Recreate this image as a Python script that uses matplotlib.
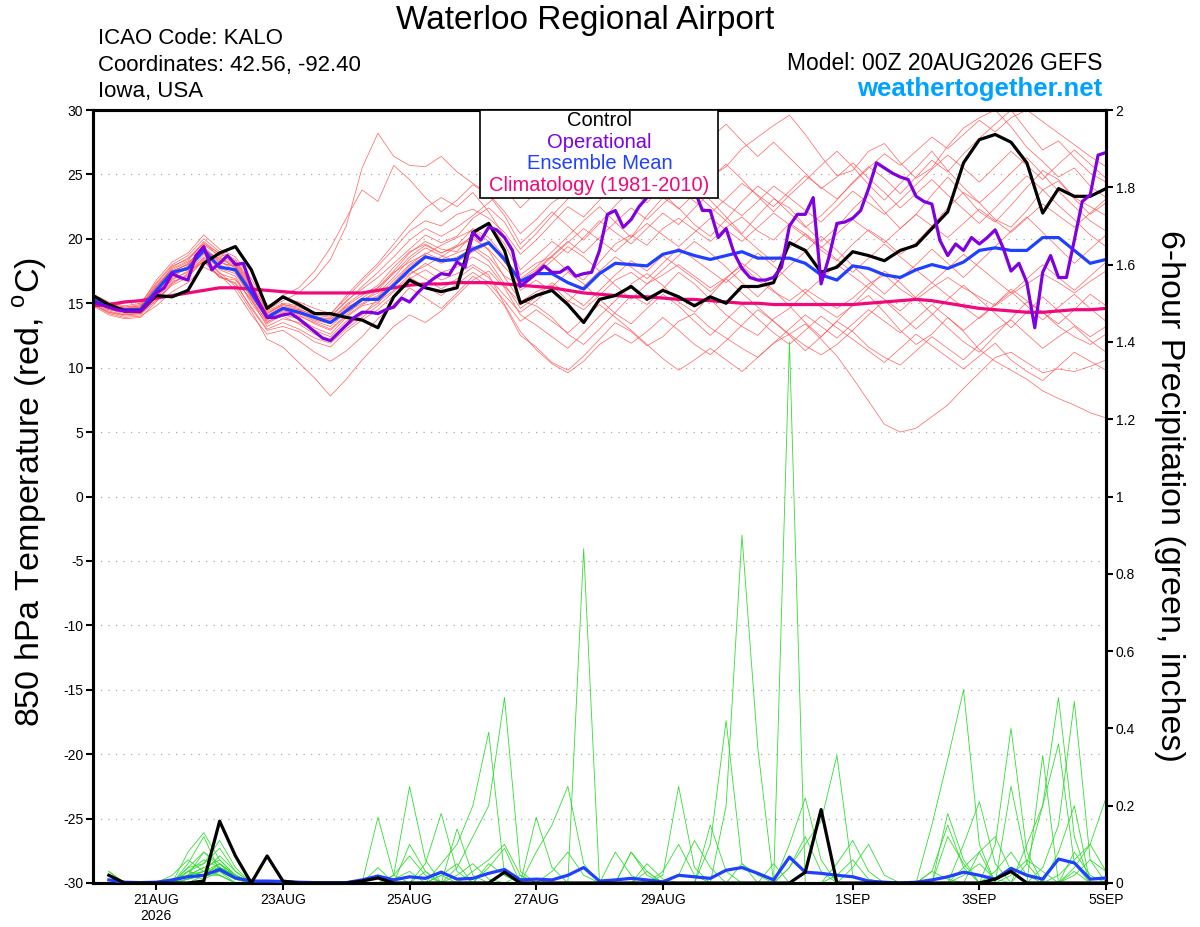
import numpy as np
import matplotlib
matplotlib.use('Agg')
import matplotlib.pyplot as plt
from matplotlib.patches import Rectangle

plt.rcParams['font.family'] = ['Liberation Sans', 'DejaVu Sans']
plt.rcParams['axes.unicode_minus'] = False

# forecast hours from 00Z 20AUG2026 (ensemble 6-hourly, operational 3-hourly)
hours_6 = np.arange(0, 385, 6)
hours_3 = np.arange(0, 385, 3)
hours_precip = hours_6[1:]

tick_hours = [24, 72, 120, 168, 216, 288, 336, 384]
tick_labels = ['21AUG\n2026', '23AUG', '25AUG', '27AUG', '29AUG', '1SEP', '3SEP', '5SEP']

# 850 hPa temperature (C)
control_t = [15.6, 14.9, 14.4, 14.4, 15.6, 15.5, 16.0, 18.1, 18.9, 19.4, 17.6, 14.6, 15.5,
             14.9, 14.2, 14.2, 13.9, 13.7, 13.1, 15.5, 16.8, 16.2, 15.9, 16.2, 20.5, 21.2,
             19.1, 15.0, 15.6, 16.0, 14.9, 13.5, 15.3, 15.6, 16.3, 15.3, 16.0, 15.5, 14.8,
             15.5, 15.0, 16.3, 16.3, 16.6, 19.7, 19.1, 17.4, 17.8, 19.0, 18.7, 18.3, 19.1,
             19.5, 20.8, 22.1, 25.9, 27.7, 28.1, 27.5, 25.9, 22.0, 23.9, 23.3, 23.3, 23.9]

mean_t = [15.3, 14.7, 14.5, 14.5, 16.0, 17.4, 17.7, 19.1, 17.8, 17.6, 15.8, 13.9, 14.6,
          14.3, 13.9, 13.5, 14.4, 15.3, 15.3, 16.4, 17.6, 18.6, 18.3, 18.4, 19.2, 19.7,
          18.4, 16.7, 17.3, 17.3, 16.6, 16.1, 17.3, 18.1, 18.0, 17.9, 18.8, 19.1, 18.7,
          18.4, 18.7, 19.0, 18.5, 18.5, 18.5, 18.1, 17.2, 16.8, 17.9, 17.7, 17.2, 17.0,
          17.6, 18.0, 17.7, 18.2, 19.1, 19.3, 19.1, 19.1, 20.1, 20.1, 19.1, 18.1, 18.4]

clim_t = [14.8, 14.9, 15.1, 15.2, 15.4, 15.6, 15.8, 16.0, 16.2, 16.2, 16.1, 16.0, 15.9,
          15.8, 15.8, 15.8, 15.8, 15.8, 16.0, 16.2, 16.4, 16.5, 16.5, 16.6, 16.6, 16.6,
          16.5, 16.4, 16.3, 16.2, 16.0, 15.8, 15.7, 15.6, 15.5, 15.5, 15.4, 15.3, 15.3,
          15.2, 15.1, 15.0, 15.0, 14.9, 14.9, 14.9, 14.9, 14.9, 14.9, 15.0, 15.1, 15.2,
          15.3, 15.2, 15.0, 14.8, 14.6, 14.5, 14.4, 14.3, 14.3, 14.4, 14.5, 14.5, 14.6]

oper_t = [15.1, 14.9, 14.7, 14.5, 14.4, 14.4, 14.4, 15.0, 15.8, 16.2,
          17.3, 17.0, 16.8, 18.7, 19.4, 17.6, 18.1, 18.7, 18.0, 18.1,
          16.3, 15.0, 13.9, 13.9, 14.1, 14.2, 13.8, 13.3, 12.8, 12.3,
          12.1, 12.7, 13.3, 13.9, 14.3, 14.3, 14.2, 14.5, 14.7, 15.4,
          15.1, 15.8, 16.4, 16.9, 17.3, 17.2, 18.2, 17.8, 20.5, 19.9,
          20.9, 20.7, 20.1, 19.1, 16.3, 16.8, 17.3, 17.9, 17.4, 17.4,
          17.8, 17.1, 17.3, 17.4, 19.1, 21.9, 22.2, 20.9, 21.5, 22.5,
          23.2, 24.0, 24.5, 24.8, 25.0, 24.5, 23.8, 22.2, 22.2, 20.1,
          20.8, 18.9, 17.7, 17.0, 16.8, 16.8, 17.0, 17.8, 21.0, 21.9,
          21.9, 23.2, 16.5, 18.6, 21.2, 21.3, 21.6, 22.2, 23.9, 25.9,
          25.5, 25.1, 24.8, 24.6, 23.3, 22.9, 22.7, 19.9, 18.7, 19.6,
          19.1, 20.1, 19.6, 20.1, 20.7, 19.3, 17.5, 18.1, 16.6, 13.1,
          17.4, 18.7, 17.0, 17.0, 19.9, 22.9, 23.4, 26.5, 26.7]

# ensemble members, 850 hPa temperature
member_t = [
    [15.2, 14.6, 14.3, 14.6, 16.2, 17.8, 18.5, 19.6, 18.9, 18.2, 16.4, 14.5, 15.2,
     15.8, 16.9, 18.4, 21.0, 25.5, 28.2, 26.4, 25.7, 25.6, 26.4, 25.2, 24.3, 23.5,
     22.1, 20.4, 21.5, 22.8, 23.6, 24.1, 25.2, 26.0, 27.3, 28.0, 29.1, 28.4, 26.2,
     24.8, 25.6, 27.0, 27.9, 28.8, 29.6, 28.1, 26.4, 24.9, 25.3, 26.8, 27.4, 25.9,
     24.7, 25.5, 27.2, 28.6, 29.4, 30.0, 28.7, 27.1, 26.0, 24.8, 25.5, 24.1, 23.2],
    [14.9, 14.2, 13.9, 14.0, 14.8, 15.9, 16.6, 17.8, 17.2, 16.0, 14.1, 12.6, 12.9,
     12.1, 11.2, 10.5, 11.3, 12.4, 13.8, 14.9, 16.2, 15.4, 14.6, 15.8, 17.1, 16.3,
     14.8, 12.5, 11.6, 10.4, 9.8, 10.9, 12.2, 13.5, 12.8, 11.7, 12.4, 13.6, 14.2,
     13.1, 12.3, 11.5, 10.8, 11.9, 12.6, 13.4, 12.2, 10.9, 9.2, 7.4, 5.6, 5.0,
     5.3, 6.2, 7.1, 8.4, 9.6, 10.8, 11.2, 10.4, 9.6, 9.9, 9.7, 10.1, 10.6],
    [15.4, 14.8, 14.4, 14.3, 15.6, 16.8, 17.5, 18.2, 17.0, 16.8, 15.3, 13.2, 13.8,
     13.5, 12.9, 12.4, 13.6, 14.2, 15.0, 16.4, 17.3, 17.9, 18.6, 19.4, 20.2, 19.1,
     17.0, 15.2, 14.8, 13.9, 12.6, 11.8, 13.0, 14.3, 15.6, 14.9, 16.1, 17.4, 16.5,
     15.3, 14.1, 13.2, 12.5, 13.8, 14.6, 15.8, 14.7, 13.9, 14.8, 15.6, 14.3, 12.9,
     11.8, 12.6, 13.9, 12.8, 11.4, 10.5, 9.8, 9.1, 8.2, 7.6, 7.1, 6.5, 6.1],
    [15.6, 15.0, 14.7, 14.9, 16.8, 18.2, 18.9, 20.3, 19.2, 18.6, 16.9, 14.8, 15.4,
     15.1, 14.6, 14.2, 15.4, 16.7, 17.9, 19.2, 20.6, 21.4, 21.0, 21.9, 22.3, 21.6,
     20.5, 18.8, 19.9, 21.2, 22.5, 21.7, 23.0, 24.4, 23.6, 22.8, 24.1, 25.5, 24.3,
     23.0, 21.7, 20.4, 21.8, 23.1, 22.4, 21.0, 19.8, 20.9, 22.3, 23.5, 22.1, 20.8,
     21.9, 23.4, 24.8, 23.5, 22.1, 21.3, 22.6, 24.0, 25.3, 24.6, 23.2, 22.5, 21.8],
    [14.8, 14.1, 13.8, 13.9, 15.1, 16.5, 17.3, 18.6, 17.4, 16.3, 14.4, 12.2, 11.6,
     10.4, 9.2, 7.8, 9.1, 10.6, 11.9, 13.2, 14.1, 13.5, 14.4, 15.6, 16.8, 17.5,
     16.2, 14.1, 13.3, 12.4, 11.5, 12.7, 14.0, 15.2, 16.5, 17.3, 16.4, 15.1, 14.3,
     15.6, 16.9, 18.1, 17.2, 16.0, 14.8, 13.5, 12.4, 13.6, 14.9, 16.2, 17.5, 16.6,
     15.4, 14.2, 13.1, 12.0, 11.2, 12.5, 13.8, 15.1, 14.3, 13.2, 12.4, 11.8, 12.6],
    [15.3, 14.7, 14.6, 14.8, 16.4, 17.6, 18.2, 19.0, 18.5, 18.0, 16.2, 14.3, 14.9,
     14.6, 14.0, 13.7, 14.9, 15.8, 16.2, 17.5, 18.9, 19.8, 19.2, 19.0, 20.4, 21.2,
     19.6, 17.2, 18.1, 18.6, 17.5, 16.8, 18.2, 19.6, 20.3, 19.5, 20.8, 21.6, 20.7,
     19.8, 20.9, 21.7, 20.6, 19.9, 21.2, 20.4, 19.1, 18.3, 19.6, 20.7, 19.9, 18.8,
     19.7, 21.0, 22.4, 23.6, 22.8, 21.5, 20.9, 22.2, 23.8, 24.5, 23.1, 21.9, 22.8],
    [15.1, 14.5, 14.2, 14.2, 15.5, 16.9, 17.4, 18.8, 17.6, 17.1, 15.0, 13.4, 14.1,
     13.8, 13.1, 12.6, 13.9, 14.8, 15.1, 16.0, 17.2, 18.1, 17.4, 17.8, 18.6, 17.9,
     16.3, 15.1, 15.9, 16.4, 15.2, 14.5, 15.6, 16.8, 17.4, 16.5, 17.2, 18.0, 17.1,
     16.2, 17.0, 17.9, 16.8, 15.9, 15.2, 16.1, 15.3, 14.6, 15.4, 16.5, 17.2, 16.1,
     15.3, 16.2, 17.0, 16.2, 15.5, 14.8, 15.7, 16.5, 17.3, 16.6, 15.8, 16.7, 17.5],
    [15.5, 14.9, 14.5, 14.4, 15.9, 17.2, 17.9, 19.3, 18.1, 17.9, 16.0, 14.0, 14.5,
     14.4, 13.9, 13.8, 14.7, 15.2, 16.0, 17.4, 18.2, 18.8, 19.5, 20.1, 20.7, 19.8,
     18.2, 16.9, 17.8, 19.0, 20.2, 21.4, 22.5, 21.3, 20.1, 21.8, 23.2, 22.4, 21.1,
     20.2, 21.5, 22.9, 24.1, 23.2, 22.0, 20.9, 21.8, 23.0, 24.4, 25.6, 24.7, 23.5,
     24.8, 26.1, 25.2, 26.6, 27.8, 28.9, 30.0, 28.4, 26.9, 27.6, 26.3, 25.1, 24.4],
    [14.9, 14.3, 14.0, 14.1, 15.3, 16.4, 17.0, 18.4, 17.0, 16.6, 14.6, 12.9, 13.2,
     12.8, 12.0, 11.6, 12.8, 13.7, 14.5, 15.6, 16.9, 17.6, 16.8, 17.3, 18.0, 17.2,
     14.9, 12.8, 11.4, 10.3, 9.6, 10.5, 11.8, 12.6, 11.9, 12.8, 13.9, 12.9, 11.8,
     11.0, 12.1, 13.3, 14.5, 13.6, 12.5, 11.3, 12.4, 13.6, 12.8, 11.6, 10.8, 10.2,
     11.3, 12.4, 11.5, 10.6, 11.8, 12.9, 13.7, 12.6, 11.5, 12.4, 13.2, 12.1, 11.2],
    [15.7, 15.1, 14.8, 15.0, 16.6, 18.0, 18.7, 20.0, 19.0, 18.4, 16.6, 14.7, 15.6,
     16.2, 17.5, 19.3, 21.6, 23.8, 22.9, 25.7, 24.6, 23.2, 22.1, 23.0, 24.2, 23.4,
     21.8, 19.6, 20.8, 22.1, 21.0, 19.9, 21.2, 22.6, 23.8, 24.9, 23.6, 22.3, 23.5,
     24.7, 25.8, 24.6, 23.3, 22.1, 23.4, 24.5, 25.7, 26.8, 25.6, 24.2, 23.0, 24.3,
     25.5, 26.8, 25.3, 24.0, 22.8, 23.9, 25.1, 26.3, 25.0, 23.7, 22.5, 21.4, 20.6],
    [15.2, 14.6, 14.4, 14.5, 16.1, 17.3, 17.6, 19.2, 18.3, 17.5, 15.6, 13.7, 14.4,
     14.2, 13.6, 13.2, 14.3, 15.0, 15.6, 16.8, 18.0, 18.9, 18.4, 18.9, 19.4, 18.6,
     17.1, 16.4, 17.2, 18.3, 19.4, 18.6, 17.5, 16.4, 15.3, 16.5, 17.6, 18.7, 19.8,
     18.9, 17.8, 16.6, 15.5, 16.7, 17.9, 19.0, 20.2, 19.1, 17.9, 16.8, 15.7, 16.9,
     18.0, 19.2, 18.1, 17.0, 18.2, 19.4, 20.6, 21.7, 20.5, 19.3, 18.1, 19.2, 20.3],
    [15.0, 14.4, 14.1, 14.2, 15.2, 16.6, 17.2, 18.5, 17.3, 16.9, 15.2, 13.6, 14.0,
     13.4, 12.6, 12.1, 13.2, 14.1, 15.3, 16.5, 17.6, 16.9, 16.1, 16.9, 17.8, 17.0,
     15.6, 14.3, 15.2, 16.3, 17.4, 16.5, 15.3, 14.2, 13.4, 14.6, 15.7, 14.8, 13.6,
     12.5, 13.7, 14.9, 13.8, 12.7, 11.8, 12.9, 14.0, 13.1, 12.2, 11.3, 10.4, 11.5,
     12.6, 11.7, 10.8, 9.9, 10.9, 11.9, 10.6, 9.7, 9.0, 10.1, 11.2, 10.5, 9.8],
    [15.4, 14.8, 14.6, 14.7, 16.3, 17.5, 18.0, 19.5, 18.7, 18.1, 16.3, 14.2, 14.8,
     14.5, 14.1, 13.9, 15.2, 16.1, 17.0, 18.1, 19.2, 20.3, 19.7, 20.2, 21.6, 22.4,
     21.3, 19.2, 20.4, 21.8, 23.1, 24.3, 25.5, 24.6, 25.8, 27.0, 26.2, 27.4, 28.6,
     27.8, 28.9, 27.6, 26.4, 27.5, 26.3, 25.1, 23.9, 24.8, 25.9, 24.7, 23.6, 22.4,
     23.5, 24.6, 23.4, 22.3, 21.2, 22.4, 23.7, 24.9, 23.8, 22.6, 21.5, 20.3, 19.4],
    [15.1, 14.5, 14.3, 14.3, 15.7, 17.0, 17.8, 19.1, 17.7, 17.3, 15.4, 13.5, 14.3,
     14.0, 13.5, 13.0, 14.1, 15.2, 15.8, 17.0, 18.4, 19.3, 18.7, 18.2, 19.0, 19.6,
     18.3, 16.0, 16.8, 15.9, 15.1, 16.3, 17.5, 18.6, 17.8, 16.9, 18.1, 19.3, 18.4,
     17.5, 16.6, 17.7, 18.9, 17.9, 16.8, 15.8, 16.9, 18.0, 17.1, 16.2, 15.3, 14.4,
     15.5, 16.6, 15.6, 14.7, 13.8, 14.9, 16.1, 15.2, 14.3, 13.4, 14.5, 15.7, 14.8],
    [15.6, 14.9, 14.7, 14.8, 16.5, 17.9, 18.4, 19.8, 18.8, 18.3, 16.5, 14.4, 15.0,
     14.8, 14.3, 14.1, 15.6, 16.9, 18.1, 19.6, 21.1, 22.4, 23.2, 22.5, 23.6, 22.1,
     20.2, 17.6, 18.7, 19.8, 18.9, 20.1, 21.4, 20.5, 19.6, 20.8, 22.0, 21.1, 22.4,
     23.6, 22.7, 21.8, 22.9, 24.1, 23.2, 22.2, 21.3, 22.5, 23.7, 22.8, 21.9, 23.0,
     24.2, 25.4, 26.5, 25.5, 24.4, 25.6, 26.8, 25.7, 24.6, 25.8, 26.9, 25.8, 24.7],
    [15.3, 14.6, 14.3, 14.4, 15.8, 17.1, 17.8, 18.9, 18.0, 17.4, 15.5, 13.8, 14.5,
     14.1, 13.4, 12.9, 14.0, 14.9, 15.5, 16.6, 17.9, 18.7, 18.1, 18.6, 19.2, 18.3,
     16.5, 14.6, 15.5, 16.6, 15.7, 14.8, 16.0, 17.2, 18.3, 17.5, 18.7, 17.8, 16.9,
     15.9, 16.9, 15.8, 14.7, 13.6, 12.6, 11.7, 11.0, 11.8, 12.9, 14.1, 15.2, 14.1,
     13.0, 14.1, 15.3, 16.4, 15.3, 14.2, 13.1, 14.3, 15.5, 14.4, 13.3, 12.4, 13.2],
    [15.5, 14.9, 14.6, 14.6, 16.0, 17.4, 18.1, 19.4, 18.2, 17.8, 15.9, 14.1, 14.7,
     14.5, 13.8, 13.5, 14.8, 15.6, 16.4, 17.8, 19.0, 19.6, 18.9, 19.5, 20.8, 20.1,
     18.6, 16.8, 17.6, 18.7, 19.8, 18.9, 20.1, 21.3, 22.4, 21.5, 22.7, 23.8, 22.9,
     22.0, 23.1, 24.3, 23.4, 22.5, 23.7, 24.9, 24.0, 23.1, 24.3, 25.5, 26.6, 25.7,
     26.8, 27.9, 27.0, 28.1, 29.2, 28.3, 29.4, 30.0, 29.1, 28.2, 27.3, 26.4, 25.6],
    [14.9, 14.3, 14.1, 14.2, 15.4, 16.7, 17.1, 18.3, 17.1, 16.5, 14.7, 13.0, 13.5,
     13.0, 12.3, 11.9, 13.0, 13.9, 14.8, 15.9, 17.0, 16.3, 15.6, 16.5, 17.4, 16.6,
     15.2, 13.6, 14.5, 13.6, 12.7, 13.8, 14.9, 13.9, 12.9, 11.8, 10.7, 9.8, 10.6,
     11.5, 10.6, 9.7, 10.8, 11.9, 13.0, 14.1, 13.2, 12.3, 13.4, 14.5, 13.6, 12.7,
     13.8, 14.9, 13.9, 12.9, 13.9, 14.9, 15.9, 14.8, 13.7, 14.7, 15.7, 14.6, 13.6],
    [15.2, 14.7, 14.5, 14.7, 16.3, 17.7, 18.3, 19.7, 18.6, 17.7, 15.8, 14.0, 14.7,
     14.3, 13.7, 13.4, 14.6, 15.4, 16.2, 17.3, 18.6, 19.5, 18.9, 19.4, 20.0, 19.2,
     17.8, 16.5, 17.5, 18.6, 19.7, 20.8, 19.9, 19.0, 20.1, 21.2, 20.3, 19.4, 20.5,
     21.6, 20.7, 19.8, 20.9, 22.0, 21.1, 20.2, 19.3, 20.4, 21.5, 20.6, 19.7, 20.8,
     21.9, 21.0, 20.1, 21.2, 22.3, 21.4, 20.5, 21.6, 22.7, 21.8, 20.9, 22.0, 23.1],
    [15.4, 14.8, 14.5, 14.6, 16.0, 17.5, 18.0, 19.2, 18.4, 17.9, 16.1, 14.2, 14.9,
     14.7, 14.2, 14.0, 15.1, 16.3, 17.4, 18.6, 19.9, 20.8, 20.2, 20.9, 21.8, 22.8,
     23.9, 22.4, 23.6, 24.8, 25.9, 26.8, 25.7, 24.6, 25.8, 26.9, 25.8, 24.7, 23.6,
     22.5, 21.4, 20.3, 19.2, 18.2, 19.3, 20.4, 19.4, 18.4, 17.4, 18.5, 19.6, 18.6,
     17.6, 16.6, 17.7, 18.8, 17.8, 16.8, 15.8, 16.9, 18.0, 17.0, 16.0, 17.1, 18.2],
]

# 6-hour precipitation (inches), valid from hour 6
control_p = [0.02, 0, 0, 0, 0, 0, 0.005, 0.16, 0.07, 0, 0.07, 0.005, 0, 0, 0, 0,
             0.005, 0.013, 0, 0, 0, 0, 0, 0, 0, 0.028, 0, 0, 0, 0, 0, 0,
             0, 0, 0, 0, 0, 0, 0, 0, 0, 0, 0, 0, 0.028, 0.19, 0, 0,
             0, 0, 0, 0, 0, 0, 0, 0, 0.01, 0.03, 0, 0, 0, 0, 0, 0]

mean_p = [0.008, 0.002, 0.001, 0.002, 0.008, 0.016, 0.02, 0.035, 0.013, 0.005, 0.005, 0.004, 0.002, 0.001, 0.001, 0.001,
          0.008, 0.018, 0.008, 0.016, 0.012, 0.028, 0.01, 0.012, 0.025, 0.035, 0.008, 0.01, 0.008, 0.02, 0.04, 0.005,
          0.008, 0.012, 0.008, 0.003, 0.02, 0.016, 0.012, 0.033, 0.04, 0.025, 0.008, 0.067, 0.028, 0.025, 0.02, 0.016,
          0.005, 0.002, 0.0, 0.002, 0.008, 0.016, 0.028, 0.02, 0.01, 0.038, 0.02, 0.01, 0.062, 0.052, 0.01, 0.013]

member_p = [
    [0, 0, 0, 0, 0, 0.04, 0.05, 0.09, 0.03, 0, 0, 0, 0, 0, 0, 0,
     0, 0, 0, 0, 0, 0.02, 0, 0, 0, 0, 0, 0, 0, 0, 0.865, 0,
     0, 0, 0, 0, 0, 0, 0, 0, 0, 0, 0.05, 0, 0, 0, 0, 0,
     0, 0, 0, 0, 0, 0.12, 0.05, 0, 0, 0, 0, 0, 0, 0, 0, 0],
    [0, 0, 0, 0, 0.02, 0.06, 0.03, 0.02, 0, 0, 0, 0, 0, 0, 0, 0,
     0, 0, 0.01, 0.03, 0, 0, 0, 0, 0.05, 0.02, 0, 0, 0, 0, 0, 0,
     0, 0, 0, 0, 0, 0, 0, 0, 0, 0, 0, 1.40, 0, 0, 0, 0,
     0, 0, 0, 0, 0, 0, 0, 0, 0, 0.02, 0.06, 0.03, 0, 0, 0, 0],
    [0.03, 0, 0, 0, 0, 0.08, 0.13, 0.06, 0.02, 0, 0, 0, 0, 0, 0, 0,
     0, 0, 0, 0, 0, 0, 0, 0, 0, 0, 0, 0, 0, 0, 0, 0,
     0, 0, 0, 0, 0, 0, 0, 0.2, 0.90, 0.35, 0, 0, 0, 0, 0, 0,
     0, 0, 0, 0, 0, 0, 0, 0, 0, 0, 0, 0, 0, 0.04, 0.1, 0.03],
    [0, 0, 0, 0, 0, 0.03, 0.05, 0.11, 0.04, 0, 0, 0, 0, 0, 0, 0,
     0, 0, 0, 0, 0, 0, 0.04, 0.12, 0.2, 0.48, 0.03, 0, 0, 0, 0, 0,
     0, 0, 0, 0, 0, 0, 0.1, 0.42, 0.05, 0, 0, 0, 0, 0, 0, 0,
     0, 0, 0, 0, 0, 0, 0, 0, 0, 0, 0, 0, 0.08, 0.2, 0, 0],
    [0, 0, 0, 0, 0.01, 0.02, 0.08, 0.04, 0.02, 0, 0, 0, 0, 0, 0, 0,
     0, 0, 0, 0, 0, 0.05, 0.1, 0.2, 0.39, 0.02, 0, 0, 0, 0, 0, 0,
     0, 0, 0, 0, 0, 0, 0, 0, 0, 0, 0, 0, 0, 0, 0, 0,
     0, 0, 0, 0, 0.15, 0.32, 0.50, 0.1, 0, 0, 0, 0, 0, 0, 0, 0],
    [0, 0, 0, 0, 0, 0.05, 0.12, 0.03, 0, 0, 0, 0, 0, 0, 0, 0,
     0, 0, 0.02, 0.25, 0.06, 0, 0, 0, 0, 0, 0, 0.08, 0.15, 0.25, 0.05, 0,
     0, 0, 0, 0, 0, 0, 0, 0, 0, 0, 0, 0.04, 0.1, 0.16, 0.33, 0.02,
     0, 0, 0, 0, 0, 0, 0, 0, 0, 0, 0, 0, 0, 0, 0, 0],
    [0, 0, 0, 0, 0, 0.02, 0.04, 0.06, 0.02, 0, 0, 0, 0, 0, 0, 0,
     0, 0, 0, 0, 0.05, 0.18, 0.03, 0, 0, 0, 0, 0, 0, 0, 0, 0,
     0, 0, 0, 0.02, 0.25, 0.04, 0, 0, 0, 0, 0, 0, 0, 0, 0, 0,
     0, 0, 0, 0, 0, 0, 0, 0, 0.1, 0.40, 0.08, 0, 0, 0, 0, 0],
    [0, 0, 0, 0, 0, 0.03, 0.02, 0.05, 0.01, 0, 0, 0, 0, 0, 0, 0,
     0, 0.17, 0.02, 0, 0, 0, 0, 0, 0, 0, 0, 0, 0, 0, 0, 0,
     0, 0, 0, 0, 0, 0, 0, 0, 0, 0, 0, 0, 0, 0, 0, 0,
     0, 0, 0, 0, 0, 0, 0, 0, 0, 0, 0.05, 0.2, 0.48, 0.12, 0, 0],
    [0, 0, 0, 0, 0, 0.02, 0.03, 0.04, 0.02, 0, 0, 0, 0, 0, 0, 0,
     0, 0, 0, 0, 0, 0, 0, 0, 0, 0, 0, 0.17, 0.04, 0, 0, 0,
     0, 0, 0, 0, 0, 0, 0, 0, 0, 0, 0, 0, 0, 0, 0, 0,
     0, 0, 0, 0, 0, 0, 0, 0, 0, 0, 0, 0.04, 0.15, 0.47, 0.06, 0],
    [0.01, 0, 0, 0, 0, 0.02, 0.03, 0.07, 0.03, 0, 0, 0, 0, 0, 0, 0,
     0, 0, 0, 0, 0, 0, 0.14, 0.02, 0, 0, 0, 0, 0, 0, 0, 0,
     0, 0.08, 0.03, 0, 0, 0, 0, 0, 0, 0, 0, 0, 0, 0, 0, 0,
     0, 0, 0, 0, 0, 0, 0.1, 0.21, 0.05, 0, 0, 0, 0.02, 0.06, 0.1, 0.22],
    [0, 0, 0, 0, 0, 0.01, 0.02, 0.03, 0.01, 0, 0, 0, 0, 0, 0, 0,
     0, 0, 0, 0, 0, 0.02, 0.05, 0, 0, 0, 0, 0, 0, 0, 0, 0,
     0, 0.08, 0.02, 0, 0, 0, 0, 0, 0, 0, 0, 0, 0, 0, 0.05, 0.11,
     0.03, 0, 0, 0, 0, 0, 0, 0.08, 0, 0.25, 0.05, 0, 0, 0, 0, 0],
    [0, 0, 0, 0, 0, 0.03, 0.02, 0.04, 0.02, 0, 0, 0, 0, 0, 0, 0,
     0, 0, 0, 0.1, 0.03, 0, 0, 0, 0, 0, 0, 0, 0, 0, 0, 0,
     0, 0, 0, 0, 0.02, 0.11, 0.04, 0, 0, 0, 0, 0, 0, 0, 0, 0,
     0, 0, 0, 0, 0, 0, 0, 0, 0, 0, 0.1, 0.2, 0.36, 0.05, 0, 0],
    [0, 0, 0, 0, 0, 0, 0.02, 0.05, 0.02, 0, 0, 0, 0, 0, 0, 0,
     0, 0, 0, 0, 0, 0, 0, 0, 0.04, 0.09, 0, 0, 0, 0, 0, 0,
     0.08, 0.02, 0, 0, 0, 0, 0, 0, 0, 0, 0, 0.1, 0.22, 0.06, 0, 0,
     0, 0, 0, 0, 0.03, 0.15, 0.04, 0, 0, 0, 0, 0, 0, 0, 0, 0],
    [0, 0, 0, 0, 0, 0.02, 0.01, 0.03, 0.01, 0, 0, 0, 0, 0, 0, 0,
     0, 0, 0.02, 0.07, 0.02, 0, 0, 0, 0, 0, 0, 0, 0, 0, 0, 0,
     0, 0, 0, 0, 0, 0, 0.15, 0.03, 0, 0, 0, 0, 0, 0, 0, 0.04,
     0.1, 0.02, 0, 0, 0, 0.18, 0.06, 0, 0, 0, 0, 0.33, 0, 0.08, 0.02, 0],
    [0, 0, 0, 0, 0, 0.01, 0.02, 0.02, 0, 0, 0, 0, 0, 0, 0, 0,
     0, 0, 0, 0, 0, 0, 0, 0.03, 0.06, 0.1, 0.02, 0, 0, 0, 0, 0,
     0, 0, 0.05, 0.01, 0, 0, 0, 0, 0, 0, 0, 0, 0, 0, 0, 0,
     0, 0, 0, 0, 0, 0, 0.04, 0.08, 0.12, 0.03, 0, 0, 0, 0, 0, 0],
    [0, 0, 0, 0, 0, 0.02, 0.04, 0.02, 0, 0, 0, 0, 0, 0, 0, 0,
     0, 0, 0, 0, 0, 0, 0, 0, 0, 0, 0, 0, 0.03, 0.08, 0.02, 0,
     0, 0, 0, 0, 0, 0, 0, 0, 0.05, 0.02, 0, 0, 0, 0, 0, 0,
     0, 0, 0, 0, 0, 0, 0, 0, 0, 0, 0, 0, 0, 0.02, 0.06, 0.03],
    [0, 0, 0, 0, 0, 0.03, 0.06, 0.04, 0.01, 0, 0, 0, 0, 0, 0, 0,
     0, 0, 0, 0, 0, 0, 0.02, 0.05, 0.01, 0, 0, 0, 0, 0, 0, 0,
     0, 0, 0, 0, 0, 0, 0, 0, 0, 0, 0, 0.04, 0.12, 0.03, 0, 0,
     0, 0, 0, 0, 0, 0, 0.02, 0.05, 0.01, 0, 0, 0, 0, 0, 0, 0],
    [0, 0, 0, 0, 0, 0.01, 0.03, 0.05, 0.02, 0, 0, 0, 0, 0, 0, 0,
     0, 0, 0, 0, 0.03, 0, 0, 0, 0, 0, 0, 0, 0, 0, 0, 0,
     0, 0, 0, 0.03, 0.1, 0.02, 0, 0, 0, 0, 0, 0, 0, 0, 0, 0,
     0, 0, 0, 0, 0, 0, 0, 0, 0.03, 0.08, 0.02, 0, 0, 0, 0, 0],
    [0.03, 0, 0, 0, 0, 0.02, 0.02, 0.03, 0.01, 0, 0, 0, 0, 0, 0, 0,
     0, 0, 0, 0, 0, 0, 0, 0, 0, 0, 0.02, 0, 0, 0, 0, 0,
     0, 0, 0, 0, 0, 0, 0, 0, 0, 0, 0, 0, 0, 0, 0.02, 0.06,
     0.01, 0, 0, 0, 0, 0, 0, 0, 0, 0, 0, 0, 0, 0.03, 0, 0],
    [0, 0, 0, 0, 0, 0.04, 0.08, 0.05, 0.02, 0, 0, 0, 0, 0, 0, 0,
     0, 0.04, 0, 0, 0, 0, 0, 0, 0, 0, 0, 0, 0, 0, 0, 0,
     0, 0, 0.03, 0, 0, 0, 0, 0, 0, 0, 0, 0, 0, 0, 0, 0,
     0, 0, 0, 0, 0.03, 0.01, 0, 0, 0, 0, 0, 0, 0, 0, 0, 0],
]

legend_items = ['Control', 'Operational', 'Ensemble Mean', 'Climatology (1981-2010)']
legend_colors = ['black', '#8000e0', '#2040ff', '#f0087c']

fig = plt.figure(figsize=(12, 9.27), dpi=100)
ax = fig.add_axes([93 / 1200, 44 / 927, 1013 / 1200, 773 / 927])
ax2 = ax.twinx()

# temperature members and main lines
for m in member_t:
    ax.plot(hours_6, m, color='#ff5050', lw=0.5, alpha=0.9, zorder=2)
ax.plot(hours_6, clim_t, color=legend_colors[3], lw=2.3, zorder=4)
ax.plot(hours_6, mean_t, color=legend_colors[2], lw=2.3, zorder=5)
ax.plot(hours_6, control_t, color=legend_colors[0], lw=2.3, zorder=6)
ax.plot(hours_3, oper_t, color=legend_colors[1], lw=2.3, zorder=7)

# precipitation on right axis
for m in member_p:
    ax2.plot(hours_precip, m, color='#33dd33', lw=0.6, zorder=2)
ax2.plot(hours_precip, mean_p, color=legend_colors[2], lw=2.3, zorder=4)
ax2.plot(hours_precip, control_p, color='black', lw=2.3, zorder=5)

ax.set_xlim(0, 384)
ax.set_ylim(-30, 30)
ax2.set_ylim(0, 2)
ax.set_yticks(np.arange(-30, 31, 5))
ax2.set_yticks(np.arange(0, 2.01, 0.2))
ax2.set_yticklabels(['0', '0.2', '0.4', '0.6', '0.8', '1', '1.2', '1.4', '1.6', '1.8', '2'])
ax.set_xticks(tick_hours)
ax.set_xticklabels(tick_labels)

ax.grid(axis='y', color='#aaaaaa', lw=0.9, ls=(0, (1, 5)))
ax.set_axisbelow(True)

ax.tick_params(axis='both', direction='out', length=5, width=1.5, labelsize=10, pad=2)
ax2.tick_params(axis='y', direction='out', length=5, width=1.5, labelsize=10, pad=2)
for a in (ax, ax2):
    for s in a.spines.values():
        s.set_linewidth(2.2)

# legend box
ax2.add_patch(Rectangle((0.382, 0.886), 0.235, 0.114, transform=ax2.transAxes,
                        facecolor='white', edgecolor='black', lw=1.2, zorder=10))
for k, (txt, col) in enumerate(zip(legend_items, legend_colors)):
    ax2.text(0.5, 0.986 - 0.0277 * k, txt, color=col, fontsize=14.5, ha='center', va='center',
             transform=ax2.transAxes, zorder=11)

# header text
fig.text(585 / 1200, 1 - 20 / 927, 'Waterloo Regional Airport', fontsize=24, ha='center', va='center')
fig.text(98 / 1200, 1 - 39 / 927, 'ICAO Code: KALO', fontsize=16, ha='left', va='center')
fig.text(98 / 1200, 1 - 65 / 927, 'Coordinates: 42.56, -92.40', fontsize=16, ha='left', va='center')
fig.text(98 / 1200, 1 - 91 / 927, 'Iowa, USA', fontsize=16, ha='left', va='center')
fig.text(1102 / 1200, 1 - 63 / 927, 'Model: 00Z 20AUG2026 GEFS', fontsize=16.5, ha='right', va='center')
fig.text(1102 / 1200, 1 - 89 / 927, 'weathertogether.net', fontsize=18.5, fontweight='bold',
         color='#00a2ff', ha='right', va='center')

fig.text(30 / 1200, 1 - 492 / 927, r'850 hPa Temperature (red, $^\mathregular{o}$C)',
         fontsize=24.5, rotation=90, ha='center', va='center')
fig.text(1170 / 1200, 1 - 496 / 927, '6-hour Precipitation (green, inches)',
         fontsize=24.5, rotation=-90, ha='center', va='center')

fig.savefig('out.png', dpi=100)
